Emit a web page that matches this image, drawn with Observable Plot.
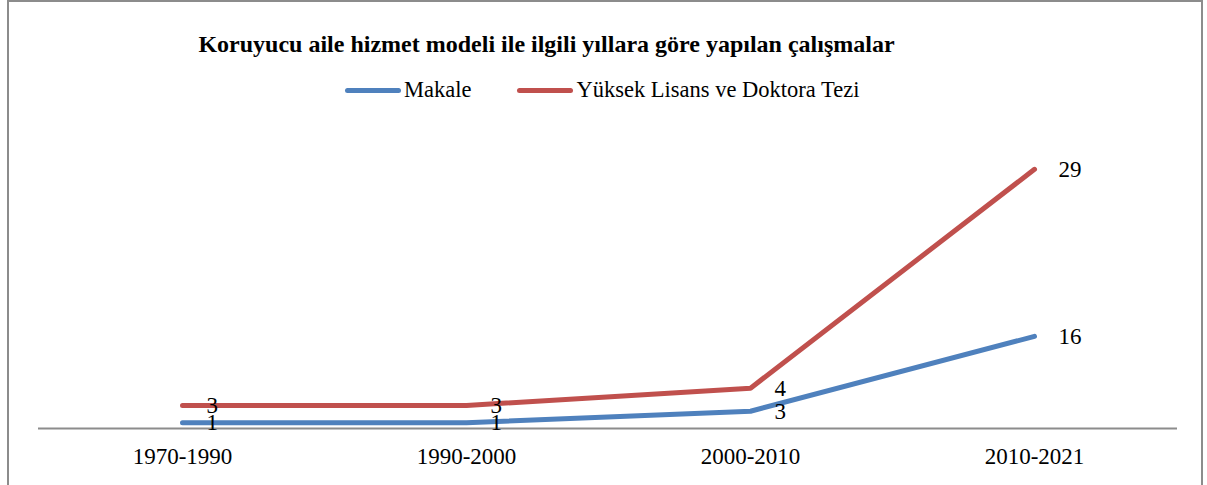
<!DOCTYPE html>
<html>
<head>
<meta charset="utf-8">
<script src="https://cdn.jsdelivr.net/npm/d3@7"></script>
<script src="https://cdn.jsdelivr.net/npm/@observablehq/plot@0.6"></script>
<style>
  html, body { margin: 0; padding: 0; background: #fff; overflow: hidden; }
  #wrap { position: relative; width: 1207px; height: 485px; overflow: hidden; font-family: 'Liberation Serif', 'DejaVu Serif', serif; }
  #frame { position: absolute; left: 7px; top: 0px; width: 1196px; height: 520px; border: 2px solid #8c8c8c; box-sizing: border-box; }
  #title { position: absolute; left: 0; width: 1093px; top: 31px; text-align: center; font-family: 'Liberation Serif', serif; font-weight: bold; font-size: 24px; line-height: 26px; color: #000; white-space: nowrap; }
  #legend { position: absolute; left: 345px; top: 77px; display: flex; align-items: center; font-family: 'Liberation Serif', serif; font-size: 22.5px; line-height: 26px; color: #000; white-space: nowrap; }
  .sw { display: inline-block; width: 56px; height: 5px; border-radius: 3px; margin-right: 3px; }
  .item { display: flex; align-items: center; margin-right: 46px; font-family: 'Liberation Serif', serif; }
  #chart { position: absolute; left: 0; top: 0; }
</style>
</head>
<body>
<div id="wrap">
  <div id="frame"></div>
  <div id="chart"></div>
  <div id="title"></div>
  <div id="legend"></div>
</div>
<script>
const title = "Koruyucu aile hizmet modeli ile ilgili yıllara göre yapılan çalışmalar";
const periods = ["1970-1990", "1990-2000", "2000-2010", "2010-2021"];
const seriesNames = ["Makale", "Yüksek Lisans ve Doktora Tezi"];
const makale = [1, 1, 3, 16];
const tezi = [3, 3, 4, 29];
const colors = ["#4F81BD", "#C0504D"];

const data = [];
[makale, tezi].forEach((vals, si) => {
  vals.forEach((v, i) => data.push({period: periods[i], series: seriesNames[si], value: v}));
});

document.getElementById("title").textContent = title;
const legend = document.getElementById("legend");
seriesNames.forEach((s, i) => {
  const item = document.createElement("span");
  item.className = "item";
  const sw = document.createElement("span");
  sw.className = "sw";
  sw.style.background = colors[i];
  item.appendChild(sw);
  item.appendChild(document.createTextNode(s));
  legend.appendChild(item);
});

const chart = Plot.plot({
  width: 1207,
  height: 485,
  marginLeft: 38,
  marginRight: 30,
  marginTop: 140,
  marginBottom: 57,
  style: {fontFamily: "'Liberation Serif', serif", fontSize: "23px", color: "#000", background: "transparent"},
  x: {type: "point", domain: periods, padding: 0.5, label: null},
  y: {domain: [0, 50], axis: null},
  color: {domain: seriesNames, range: colors},
  marks: [
    Plot.ruleY([0], {stroke: "#8c8c8c", strokeWidth: 2}),
    Plot.axisX({tickSize: 0, tickPadding: 19, fontSize: 23, label: null}),
    Plot.lineY(data, Plot.stackY2({x: "period", y: "value", z: "series", stroke: "series", strokeWidth: 5, strokeLinecap: "round", strokeLinejoin: "round"})),
    Plot.text(data, Plot.stackY2({x: "period", y: "value", z: "series", text: "value", textAnchor: "start", dx: 24, fontSize: 23, fill: "#000"}))
  ]
});
document.getElementById("chart").appendChild(chart);
</script>
</body>
</html>
